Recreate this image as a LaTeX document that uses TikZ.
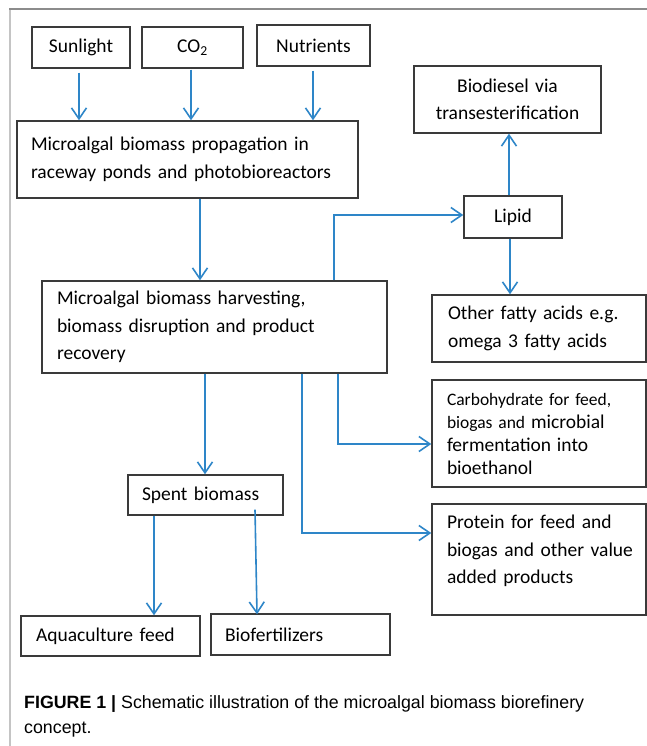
\documentclass[tikz,border=0pt]{standalone}
\usepackage{fontspec}
\setmainfont{Carlito}
\newfontfamily\capfont{Liberation Sans}
\usetikzlibrary{arrows.meta,calc}
\definecolor{flow}{HTML}{2E86C8}
\definecolor{edge}{HTML}{3A3A3A}
\definecolor{rule}{HTML}{8C8C8C}
\definecolor{side}{HTML}{C4C4C4}
\tikzset{
  box/.style={draw=edge,line width=1.4pt,inner xsep=14pt,inner ysep=0pt,align=left,font=\fontsize{19.5}{27.5}\selectfont},
  cbox/.style={box,align=center},
  ar/.style={-{Straight Barb[length=11pt,width=15pt]},line width=1.6pt,draw=flow},
}

\begin{document}
\begin{tikzpicture}[x=1pt,y=-1pt]
\useasboundingbox (0,0) rectangle (647,746);
\draw[side,line width=2pt] (10,746) -- (10,9);
\draw[rule,line width=1.8pt] (9,9) -- (647,9);

\node[cbox,minimum width=98,minimum height=41,text width=70] (sun) at (81,47.5) {Sunlight};
\node[cbox,minimum width=101,minimum height=41,text width=73] (co2) at (192.5,47.5) {CO\textsubscript{2}};
\node[cbox,minimum width=113,minimum height=41,text width=85] (nutr) at (313.5,45.5) {Nutrients};
\node[box,minimum width=341,minimum height=77,text width=313] (prop) at (187.5,159.5)
  {Microalgal biomass propagation in\\raceway ponds and photobioreactors};
\node[box,minimum width=343,minimum height=92,text width=315,inner xsep=15pt] (harv) at (214.5,327)
  {Microalgal biomass harvesting,\\biomass disruption and product\\recovery};
\node[cbox,minimum width=98,minimum height=42,text width=70] (lipid) at (513,217) {Lipid};
\node[cbox,minimum width=187,minimum height=67,text width=165,inner xsep=11pt] (biod) at (507.5,99.5)
  {Biodiesel via\\transesterification};
\node[box,minimum width=214,minimum height=67,text width=182,inner xsep=16pt] (fatty) at (539,328.5)
  {Other fatty acids e.g.\\omega 3 fatty acids};
\node[box,minimum width=214,minimum height=107,text width=184,inner xsep=15pt,font=\fontsize{17.5}{23}\selectfont] (carb) at (539,433.5)
  {Carbohydrate for feed,\\biogas and {\fontsize{19.5}{23}\selectfont microbial}\\{\fontsize{19.5}{23}\selectfont fermentation into}\\{\fontsize{19.5}{23}\selectfont bioethanol}};
\node[box,minimum width=214,minimum height=111,text width=184,inner xsep=15pt] (prot) at (539,559.5)
  {Protein for feed and\\\mbox{biogas and other value}\\added products\\[-7pt]\mbox{}};
\node[box,minimum width=155,minimum height=40,text width=127] (spent) at (205.5,495) {Spent biomass};
\node[box,minimum width=179,minimum height=40,text width=149,inner xsep=15pt] (aqua) at (110.5,636) {Aquaculture feed};
\node[box,minimum width=179,minimum height=41,text width=151] (biof) at (300.5,634.5) {Biofertilizers};

\draw[ar] ([xshift=-2pt,yshift=-4pt]sun.south) -- ([xshift=-2pt]sun.south |- prop.north);
\draw[ar] ([xshift=-1.5pt,yshift=-1pt]co2.south) -- ([xshift=-1.5pt]co2.south |- prop.north);
\draw[ar] ([xshift=-0.5pt,yshift=-4pt]nutr.south) -- ([xshift=-0.5pt]nutr.south |- prop.north);
\draw[ar] ([xshift=12.5pt]prop.south) -- ([xshift=12.5pt]prop.south |- harv.north);
\draw[ar] ([xshift=119.5pt]harv.north) |- ([yshift=2pt]lipid.west);
\draw[ar] ([xshift=-4pt]lipid.north) -- ([xshift=-4pt]lipid.north |- biod.south);
\draw[ar] ([xshift=-3pt]lipid.south) -- ([xshift=-3pt]lipid.south |- fatty.north);
\draw[ar] ([xshift=123.5pt]harv.south) |- ([yshift=-10.5pt]carb.west);
\draw[ar] ([xshift=87.5pt]harv.south) |- ([yshift=26.5pt]prot.west);
\draw[ar] ([xshift=-0.5pt]spent.north |- harv.south) -- ([xshift=-0.5pt]spent.north);
\draw[ar] ([xshift=-51.5pt]spent.south) -- ([xshift=-51.5pt]spent.south |- aqua.north);
\draw[ar] ([xshift=49.5pt,yshift=6pt]spent.south) -- ([xshift=-43.5pt,yshift=-1pt]biof.north);

\node[anchor=north west,inner sep=0pt,align=left,font=\capfont\fontsize{17.8}{25}\selectfont] (cap) at (24,695)
  {\textbf{FIGURE 1 |} Schematic illustration of the microalgal biomass biorefinery\\concept.};
\end{tikzpicture}
\end{document}
